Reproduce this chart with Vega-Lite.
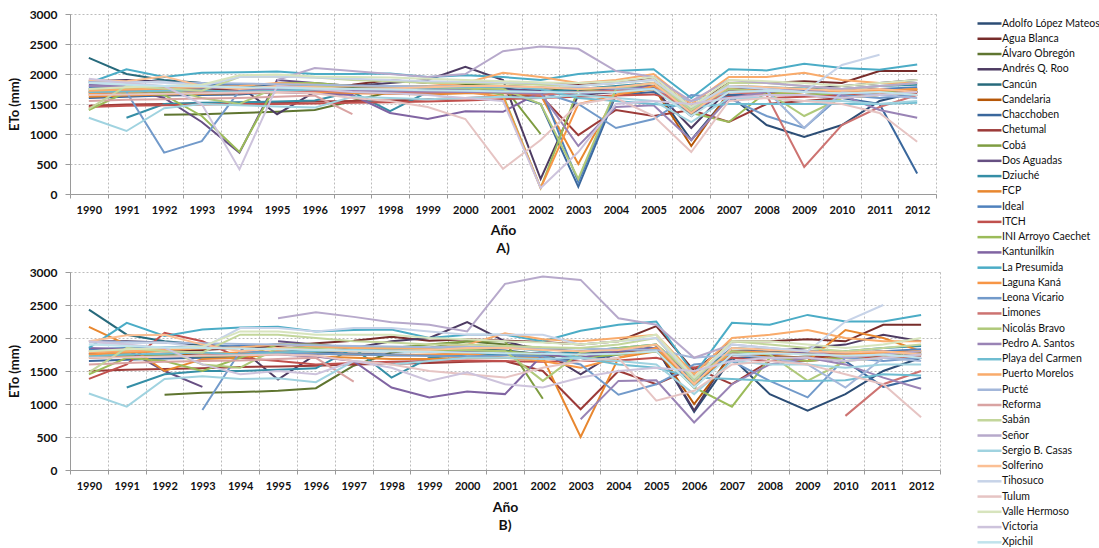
{
"$schema": "https://vega.github.io/schema/vega-lite/v6.json",
"background": "white",
"padding": {"left": 8, "top": 8, "right": 5, "bottom": 5},
"datasets": {
"st": [{"k":1,"n":"Adolfo López Mateos"},{"k":2,"n":"Agua Blanca"},{"k":3,"n":"Álvaro Obregón"},{"k":4,"n":"Andrés Q. Roo"},{"k":5,"n":"Cancún"},{"k":6,"n":"Candelaria"},{"k":7,"n":"Chacchoben"},{"k":8,"n":"Chetumal"},{"k":9,"n":"Cobá"},{"k":10,"n":"Dos Aguadas"},{"k":11,"n":"Dziuché"},{"k":12,"n":"FCP"},{"k":13,"n":"Ideal"},{"k":14,"n":"ITCH"},{"k":15,"n":"INI Arroyo Caechet"},{"k":16,"n":"Kantunilkín"},{"k":17,"n":"La Presumida"},{"k":18,"n":"Laguna Kaná"},{"k":19,"n":"Leona Vicario"},{"k":20,"n":"Limones"},{"k":21,"n":"Nicolás Bravo"},{"k":22,"n":"Pedro A. Santos"},{"k":23,"n":"Playa del Carmen"},{"k":24,"n":"Puerto Morelos"},{"k":25,"n":"Pucté"},{"k":26,"n":"Reforma"},{"k":27,"n":"Sabán"},{"k":28,"n":"Señor"},{"k":29,"n":"Sergio B. Casas"},{"k":30,"n":"Solferino"},{"k":31,"n":"Tihosuco"},{"k":32,"n":"Tulum"},{"k":33,"n":"Valle Hermoso"},{"k":34,"n":"Victoria"},{"k":35,"n":"Xpichil"}],
"d": [
{"k":1,"y":1990,"a":1720,"b":1760},{"k":1,"y":1991,"a":1730,"b":1780},{"k":1,"y":1992,"a":1750,"b":1810},{"k":1,"y":1993,"a":1760,"b":1830},{"k":1,"y":1994,"a":1790,"b":1870},{"k":1,"y":1995,"a":1820,"b":1900},{"k":1,"y":1996,"a":1800,"b":1870},{"k":1,"y":1997,"a":1780,"b":1850},{"k":1,"y":1998,"a":1760,"b":1820},{"k":1,"y":1999,"a":1750,"b":1810},{"k":1,"y":2000,"a":1770,"b":1830},{"k":1,"y":2001,"a":1760,"b":1810},{"k":1,"y":2002,"a":1700,"b":1750},{"k":1,"y":2003,"a":1650,"b":1700},{"k":1,"y":2004,"a":1720,"b":1780},{"k":1,"y":2005,"a":1780,"b":1850},{"k":1,"y":2006,"a":900,"b":880},{"k":1,"y":2007,"a":1650,"b":1700},{"k":1,"y":2008,"a":1150,"b":1150},{"k":1,"y":2009,"a":950,"b":900},{"k":1,"y":2010,"a":1150,"b":1150},{"k":1,"y":2011,"a":1550,"b":1500},{"k":1,"y":2012,"a":1700,"b":1700},
{"k":2,"y":1990,"a":1680,"b":1760},{"k":2,"y":1991,"a":1700,"b":1790},{"k":2,"y":1992,"a":1720,"b":1810},{"k":2,"y":1993,"a":1730,"b":1820},{"k":2,"y":1994,"a":1740,"b":1850},{"k":2,"y":1995,"a":1760,"b":1880},{"k":2,"y":1996,"a":1780,"b":1920},{"k":2,"y":1997,"a":1820,"b":1960},{"k":2,"y":1998,"a":1900,"b":2020},{"k":2,"y":1999,"a":1850,"b":1960},{"k":2,"y":2000,"a":1870,"b":1980},{"k":2,"y":2001,"a":1860,"b":1960},{"k":2,"y":2002,"a":1850,"b":1940},{"k":2,"y":2003,"a":1820,"b":1900},{"k":2,"y":2004,"a":1850,"b":1950},{"k":2,"y":2005,"a":1950,"b":2180},{"k":2,"y":2006,"a":1450,"b":1500},{"k":2,"y":2007,"a":1850,"b":1950},{"k":2,"y":2008,"a":1850,"b":1950},{"k":2,"y":2009,"a":1880,"b":1980},{"k":2,"y":2010,"a":1850,"b":1950},{"k":2,"y":2011,"a":2050,"b":2200},{"k":2,"y":2012,"a":2050,"b":2200},
{"k":3,"y":1990,"a":null,"b":null},{"k":3,"y":1991,"a":null,"b":null},{"k":3,"y":1992,"a":1320,"b":1140},{"k":3,"y":1993,"a":1330,"b":1170},{"k":3,"y":1994,"a":1350,"b":1180},{"k":3,"y":1995,"a":1370,"b":1200},{"k":3,"y":1996,"a":1400,"b":1240},{"k":3,"y":1997,"a":1550,"b":1580},{"k":3,"y":1998,"a":1700,"b":1780},{"k":3,"y":1999,"a":1780,"b":1850},{"k":3,"y":2000,"a":1820,"b":1950},{"k":3,"y":2001,"a":1800,"b":1900},{"k":3,"y":2002,"a":1780,"b":1850},{"k":3,"y":2003,"a":1700,"b":1780},{"k":3,"y":2004,"a":1750,"b":1820},{"k":3,"y":2005,"a":1800,"b":1900},{"k":3,"y":2006,"a":1350,"b":1300},{"k":3,"y":2007,"a":1700,"b":1750},{"k":3,"y":2008,"a":1750,"b":1800},{"k":3,"y":2009,"a":1700,"b":1750},{"k":3,"y":2010,"a":1650,"b":1700},{"k":3,"y":2011,"a":1700,"b":1750},{"k":3,"y":2012,"a":1720,"b":1780},
{"k":4,"y":1990,"a":1880,"b":1950},{"k":4,"y":1991,"a":1900,"b":1950},{"k":4,"y":1992,"a":1870,"b":1930},{"k":4,"y":1993,"a":1850,"b":1900},{"k":4,"y":1994,"a":1800,"b":1850},{"k":4,"y":1995,"a":1330,"b":1370},{"k":4,"y":1996,"a":1700,"b":1750},{"k":4,"y":1997,"a":1800,"b":1850},{"k":4,"y":1998,"a":1850,"b":1950},{"k":4,"y":1999,"a":1900,"b":2000},{"k":4,"y":2000,"a":2120,"b":2240},{"k":4,"y":2001,"a":1900,"b":1950},{"k":4,"y":2002,"a":250,"b":1800},{"k":4,"y":2003,"a":1650,"b":1450},{"k":4,"y":2004,"a":1700,"b":1800},{"k":4,"y":2005,"a":1750,"b":1850},{"k":4,"y":2006,"a":1100,"b":900},{"k":4,"y":2007,"a":1750,"b":1800},{"k":4,"y":2008,"a":1700,"b":1800},{"k":4,"y":2009,"a":1750,"b":1850},{"k":4,"y":2010,"a":1800,"b":1900},{"k":4,"y":2011,"a":1850,"b":2050},{"k":4,"y":2012,"a":1900,"b":1950},
{"k":5,"y":1990,"a":2270,"b":2430},{"k":5,"y":1991,"a":2000,"b":2050},{"k":5,"y":1992,"a":1900,"b":1950},{"k":5,"y":1993,"a":1850,"b":1900},{"k":5,"y":1994,"a":1800,"b":1850},{"k":5,"y":1995,"a":1780,"b":1830},{"k":5,"y":1996,"a":1760,"b":1800},{"k":5,"y":1997,"a":1750,"b":1800},{"k":5,"y":1998,"a":1750,"b":1800},{"k":5,"y":1999,"a":1760,"b":1800},{"k":5,"y":2000,"a":1780,"b":1820},{"k":5,"y":2001,"a":1750,"b":1800},{"k":5,"y":2002,"a":1700,"b":1750},{"k":5,"y":2003,"a":1720,"b":1780},{"k":5,"y":2004,"a":1750,"b":1800},{"k":5,"y":2005,"a":1800,"b":1850},{"k":5,"y":2006,"a":1300,"b":1250},{"k":5,"y":2007,"a":1750,"b":1800},{"k":5,"y":2008,"a":1720,"b":1780},{"k":5,"y":2009,"a":1700,"b":1750},{"k":5,"y":2010,"a":1720,"b":1780},{"k":5,"y":2011,"a":1750,"b":1800},{"k":5,"y":2012,"a":1700,"b":1750},
{"k":6,"y":1990,"a":1650,"b":1700},{"k":6,"y":1991,"a":1660,"b":1720},{"k":6,"y":1992,"a":1680,"b":1740},{"k":6,"y":1993,"a":1690,"b":1750},{"k":6,"y":1994,"a":1700,"b":1770},{"k":6,"y":1995,"a":1720,"b":1790},{"k":6,"y":1996,"a":1700,"b":1760},{"k":6,"y":1997,"a":1690,"b":1750},{"k":6,"y":1998,"a":1680,"b":1740},{"k":6,"y":1999,"a":1680,"b":1740},{"k":6,"y":2000,"a":1700,"b":1760},{"k":6,"y":2001,"a":1690,"b":1750},{"k":6,"y":2002,"a":1680,"b":1730},{"k":6,"y":2003,"a":1700,"b":1750},{"k":6,"y":2004,"a":1720,"b":1780},{"k":6,"y":2005,"a":1780,"b":1850},{"k":6,"y":2006,"a":800,"b":1000},{"k":6,"y":2007,"a":1700,"b":1750},{"k":6,"y":2008,"a":1680,"b":1730},{"k":6,"y":2009,"a":1650,"b":1700},{"k":6,"y":2010,"a":1680,"b":1730},{"k":6,"y":2011,"a":1700,"b":1750},{"k":6,"y":2012,"a":1750,"b":1800},
{"k":7,"y":1990,"a":1600,"b":1650},{"k":7,"y":1991,"a":1620,"b":1670},{"k":7,"y":1992,"a":1640,"b":1690},{"k":7,"y":1993,"a":1650,"b":1700},{"k":7,"y":1994,"a":1660,"b":1720},{"k":7,"y":1995,"a":1700,"b":1760},{"k":7,"y":1996,"a":1720,"b":1780},{"k":7,"y":1997,"a":1700,"b":1760},{"k":7,"y":1998,"a":1690,"b":1750},{"k":7,"y":1999,"a":1680,"b":1740},{"k":7,"y":2000,"a":1700,"b":1760},{"k":7,"y":2001,"a":1700,"b":1750},{"k":7,"y":2002,"a":1500,"b":1700},{"k":7,"y":2003,"a":120,"b":1650},{"k":7,"y":2004,"a":1650,"b":1750},{"k":7,"y":2005,"a":1700,"b":1800},{"k":7,"y":2006,"a":1400,"b":1400},{"k":7,"y":2007,"a":1650,"b":1700},{"k":7,"y":2008,"a":1650,"b":1700},{"k":7,"y":2009,"a":1650,"b":1700},{"k":7,"y":2010,"a":1600,"b":1650},{"k":7,"y":2011,"a":1500,"b":1260},{"k":7,"y":2012,"a":340,"b":1400},
{"k":8,"y":1990,"a":1470,"b":1500},{"k":8,"y":1991,"a":1490,"b":1520},{"k":8,"y":1992,"a":1500,"b":1530},{"k":8,"y":1993,"a":1510,"b":1540},{"k":8,"y":1994,"a":1520,"b":1560},{"k":8,"y":1995,"a":1530,"b":1570},{"k":8,"y":1996,"a":1540,"b":1580},{"k":8,"y":1997,"a":1550,"b":1600},{"k":8,"y":1998,"a":1560,"b":1610},{"k":8,"y":1999,"a":1580,"b":1620},{"k":8,"y":2000,"a":1600,"b":1640},{"k":8,"y":2001,"a":1620,"b":1650},{"k":8,"y":2002,"a":1640,"b":1500},{"k":8,"y":2003,"a":980,"b":920},{"k":8,"y":2004,"a":1400,"b":1500},{"k":8,"y":2005,"a":1300,"b":1300},{"k":8,"y":2006,"a":1400,"b":1550},{"k":8,"y":2007,"a":1200,"b":1300},{"k":8,"y":2008,"a":1500,"b":1650},{"k":8,"y":2009,"a":1550,"b":1700},{"k":8,"y":2010,"a":1600,"b":1750},{"k":8,"y":2011,"a":1650,"b":1700},{"k":8,"y":2012,"a":1700,"b":1750},
{"k":9,"y":1990,"a":1700,"b":1720},{"k":9,"y":1991,"a":1720,"b":1750},{"k":9,"y":1992,"a":1700,"b":1740},{"k":9,"y":1993,"a":1690,"b":1720},{"k":9,"y":1994,"a":1700,"b":1730},{"k":9,"y":1995,"a":1720,"b":1760},{"k":9,"y":1996,"a":1740,"b":1790},{"k":9,"y":1997,"a":1760,"b":1820},{"k":9,"y":1998,"a":1780,"b":1850},{"k":9,"y":1999,"a":1800,"b":1900},{"k":9,"y":2000,"a":1800,"b":1950},{"k":9,"y":2001,"a":1800,"b":1950},{"k":9,"y":2002,"a":1000,"b":1080},{"k":9,"y":2003,"a":null,"b":null},{"k":9,"y":2004,"a":null,"b":null},{"k":9,"y":2005,"a":null,"b":null},{"k":9,"y":2006,"a":null,"b":null},{"k":9,"y":2007,"a":null,"b":null},{"k":9,"y":2008,"a":null,"b":null},{"k":9,"y":2009,"a":null,"b":null},{"k":9,"y":2010,"a":null,"b":null},{"k":9,"y":2011,"a":null,"b":null},{"k":9,"y":2012,"a":null,"b":null},
{"k":10,"y":1990,"a":1750,"b":1800},{"k":10,"y":1991,"a":1760,"b":1820},{"k":10,"y":1992,"a":1600,"b":1500},{"k":10,"y":1993,"a":1200,"b":1260},{"k":10,"y":1994,"a":690,"b":null},{"k":10,"y":1995,"a":1900,"b":1950},{"k":10,"y":1996,"a":1850,"b":1900},{"k":10,"y":1997,"a":1800,"b":1850},{"k":10,"y":1998,"a":1780,"b":1830},{"k":10,"y":1999,"a":1760,"b":1800},{"k":10,"y":2000,"a":1750,"b":1800},{"k":10,"y":2001,"a":1740,"b":1780},{"k":10,"y":2002,"a":1730,"b":1770},{"k":10,"y":2003,"a":1700,"b":1750},{"k":10,"y":2004,"a":1750,"b":1800},{"k":10,"y":2005,"a":1800,"b":1850},{"k":10,"y":2006,"a":1300,"b":1350},{"k":10,"y":2007,"a":1750,"b":1800},{"k":10,"y":2008,"a":1700,"b":1750},{"k":10,"y":2009,"a":1750,"b":1800},{"k":10,"y":2010,"a":1700,"b":1750},{"k":10,"y":2011,"a":1750,"b":1800},{"k":10,"y":2012,"a":1700,"b":1750},
{"k":11,"y":1990,"a":null,"b":null},{"k":11,"y":1991,"a":1270,"b":1250},{"k":11,"y":1992,"a":1500,"b":1450},{"k":11,"y":1993,"a":1520,"b":1500},{"k":11,"y":1994,"a":1530,"b":1500},{"k":11,"y":1995,"a":1540,"b":1520},{"k":11,"y":1996,"a":1560,"b":1540},{"k":11,"y":1997,"a":1700,"b":1850},{"k":11,"y":1998,"a":1380,"b":1400},{"k":11,"y":1999,"a":1700,"b":1700},{"k":11,"y":2000,"a":1720,"b":1750},{"k":11,"y":2001,"a":1720,"b":1750},{"k":11,"y":2002,"a":1700,"b":1720},{"k":11,"y":2003,"a":1750,"b":1800},{"k":11,"y":2004,"a":1800,"b":1850},{"k":11,"y":2005,"a":1850,"b":1900},{"k":11,"y":2006,"a":1450,"b":1400},{"k":11,"y":2007,"a":1800,"b":1850},{"k":11,"y":2008,"a":1780,"b":1820},{"k":11,"y":2009,"a":1760,"b":1800},{"k":11,"y":2010,"a":1750,"b":1800},{"k":11,"y":2011,"a":1800,"b":1850},{"k":11,"y":2012,"a":1820,"b":1880},
{"k":12,"y":1990,"a":1620,"b":2170},{"k":12,"y":1991,"a":1640,"b":1900},{"k":12,"y":1992,"a":1660,"b":1500},{"k":12,"y":1993,"a":1670,"b":1680},{"k":12,"y":1994,"a":1680,"b":1700},{"k":12,"y":1995,"a":1700,"b":1760},{"k":12,"y":1996,"a":1690,"b":1720},{"k":12,"y":1997,"a":1680,"b":1700},{"k":12,"y":1998,"a":1670,"b":1680},{"k":12,"y":1999,"a":1660,"b":1680},{"k":12,"y":2000,"a":1680,"b":1700},{"k":12,"y":2001,"a":1680,"b":1700},{"k":12,"y":2002,"a":1650,"b":1700},{"k":12,"y":2003,"a":500,"b":500},{"k":12,"y":2004,"a":1650,"b":1700},{"k":12,"y":2005,"a":1750,"b":1800},{"k":12,"y":2006,"a":1400,"b":1350},{"k":12,"y":2007,"a":1700,"b":1750},{"k":12,"y":2008,"a":1700,"b":1700},{"k":12,"y":2009,"a":1650,"b":1650},{"k":12,"y":2010,"a":1650,"b":2120},{"k":12,"y":2011,"a":1700,"b":2000},{"k":12,"y":2012,"a":1720,"b":1800},
{"k":13,"y":1990,"a":1780,"b":1830},{"k":13,"y":1991,"a":1790,"b":1850},{"k":13,"y":1992,"a":1800,"b":1860},{"k":13,"y":1993,"a":1810,"b":1870},{"k":13,"y":1994,"a":1820,"b":1880},{"k":13,"y":1995,"a":1830,"b":1900},{"k":13,"y":1996,"a":1810,"b":1880},{"k":13,"y":1997,"a":1800,"b":1860},{"k":13,"y":1998,"a":1790,"b":1850},{"k":13,"y":1999,"a":1780,"b":1840},{"k":13,"y":2000,"a":1800,"b":1860},{"k":13,"y":2001,"a":1790,"b":1850},{"k":13,"y":2002,"a":1780,"b":1830},{"k":13,"y":2003,"a":200,"b":1800},{"k":13,"y":2004,"a":1700,"b":1800},{"k":13,"y":2005,"a":1780,"b":1850},{"k":13,"y":2006,"a":1350,"b":1350},{"k":13,"y":2007,"a":1750,"b":1800},{"k":13,"y":2008,"a":1740,"b":1780},{"k":13,"y":2009,"a":1720,"b":1760},{"k":13,"y":2010,"a":1700,"b":1750},{"k":13,"y":2011,"a":1750,"b":1800},{"k":13,"y":2012,"a":1780,"b":1830},
{"k":14,"y":1990,"a":1450,"b":1380},{"k":14,"y":1991,"a":1470,"b":1600},{"k":14,"y":1992,"a":1480,"b":2080},{"k":14,"y":1993,"a":1490,"b":1950},{"k":14,"y":1994,"a":1500,"b":1700},{"k":14,"y":1995,"a":1500,"b":1650},{"k":14,"y":1996,"a":1510,"b":1600},{"k":14,"y":1997,"a":1520,"b":1620},{"k":14,"y":1998,"a":1530,"b":1640},{"k":14,"y":1999,"a":1540,"b":1650},{"k":14,"y":2000,"a":1560,"b":1660},{"k":14,"y":2001,"a":1580,"b":1650},{"k":14,"y":2002,"a":1600,"b":1640},{"k":14,"y":2003,"a":1620,"b":1650},{"k":14,"y":2004,"a":1640,"b":1660},{"k":14,"y":2005,"a":1660,"b":1700},{"k":14,"y":2006,"a":1500,"b":1550},{"k":14,"y":2007,"a":1620,"b":1700},{"k":14,"y":2008,"a":1600,"b":1650},{"k":14,"y":2009,"a":1620,"b":1650},{"k":14,"y":2010,"a":1640,"b":1700},{"k":14,"y":2011,"a":1660,"b":1700},{"k":14,"y":2012,"a":1680,"b":1720},
{"k":15,"y":1990,"a":1400,"b":1450},{"k":15,"y":1991,"a":1700,"b":1700},{"k":15,"y":1992,"a":1650,"b":1650},{"k":15,"y":1993,"a":1300,"b":1500},{"k":15,"y":1994,"a":700,"b":1700},{"k":15,"y":1995,"a":1850,"b":1900},{"k":15,"y":1996,"a":1850,"b":1900},{"k":15,"y":1997,"a":1800,"b":1850},{"k":15,"y":1998,"a":1800,"b":1850},{"k":15,"y":1999,"a":1780,"b":1820},{"k":15,"y":2000,"a":1780,"b":1820},{"k":15,"y":2001,"a":1650,"b":1800},{"k":15,"y":2002,"a":100,"b":1750},{"k":15,"y":2003,"a":1750,"b":1700},{"k":15,"y":2004,"a":1700,"b":1750},{"k":15,"y":2005,"a":1750,"b":1800},{"k":15,"y":2006,"a":1350,"b":1250},{"k":15,"y":2007,"a":1200,"b":960},{"k":15,"y":2008,"a":1700,"b":1700},{"k":15,"y":2009,"a":1650,"b":1650},{"k":15,"y":2010,"a":1680,"b":1700},{"k":15,"y":2011,"a":1700,"b":1750},{"k":15,"y":2012,"a":1750,"b":1800},
{"k":16,"y":1990,"a":1820,"b":1850},{"k":16,"y":1991,"a":1800,"b":1830},{"k":16,"y":1992,"a":1750,"b":1800},{"k":16,"y":1993,"a":1700,"b":1750},{"k":16,"y":1994,"a":1720,"b":1760},{"k":16,"y":1995,"a":1700,"b":1750},{"k":16,"y":1996,"a":1680,"b":1720},{"k":16,"y":1997,"a":1650,"b":1650},{"k":16,"y":1998,"a":1350,"b":1250},{"k":16,"y":1999,"a":1250,"b":1100},{"k":16,"y":2000,"a":1380,"b":1190},{"k":16,"y":2001,"a":1370,"b":1150},{"k":16,"y":2002,"a":1700,"b":1750},{"k":16,"y":2003,"a":1650,"b":1700},{"k":16,"y":2004,"a":1750,"b":1800},{"k":16,"y":2005,"a":1800,"b":1850},{"k":16,"y":2006,"a":1350,"b":1400},{"k":16,"y":2007,"a":1750,"b":1800},{"k":16,"y":2008,"a":1700,"b":1750},{"k":16,"y":2009,"a":1750,"b":1800},{"k":16,"y":2010,"a":1700,"b":1750},{"k":16,"y":2011,"a":1750,"b":1800},{"k":16,"y":2012,"a":1700,"b":1750},
{"k":17,"y":1990,"a":1850,"b":1850},{"k":17,"y":1991,"a":2080,"b":2230},{"k":17,"y":1992,"a":1950,"b":2030},{"k":17,"y":1993,"a":2020,"b":2130},{"k":17,"y":1994,"a":2030,"b":2160},{"k":17,"y":1995,"a":2040,"b":2170},{"k":17,"y":1996,"a":2000,"b":2100},{"k":17,"y":1997,"a":2000,"b":2120},{"k":17,"y":1998,"a":2010,"b":2130},{"k":17,"y":1999,"a":1950,"b":2000},{"k":17,"y":2000,"a":1980,"b":2050},{"k":17,"y":2001,"a":1950,"b":2050},{"k":17,"y":2002,"a":1900,"b":1950},{"k":17,"y":2003,"a":2000,"b":2110},{"k":17,"y":2004,"a":2050,"b":2200},{"k":17,"y":2005,"a":2080,"b":2250},{"k":17,"y":2006,"a":1600,"b":1450},{"k":17,"y":2007,"a":2080,"b":2230},{"k":17,"y":2008,"a":2060,"b":2200},{"k":17,"y":2009,"a":2170,"b":2350},{"k":17,"y":2010,"a":2100,"b":2250},{"k":17,"y":2011,"a":2070,"b":2250},{"k":17,"y":2012,"a":2160,"b":2350},
{"k":18,"y":1990,"a":1680,"b":1750},{"k":18,"y":1991,"a":1700,"b":1780},{"k":18,"y":1992,"a":1720,"b":1800},{"k":18,"y":1993,"a":1700,"b":1760},{"k":18,"y":1994,"a":1710,"b":1780},{"k":18,"y":1995,"a":1740,"b":1800},{"k":18,"y":1996,"a":1700,"b":1760},{"k":18,"y":1997,"a":1690,"b":1750},{"k":18,"y":1998,"a":1680,"b":1740},{"k":18,"y":1999,"a":1690,"b":1750},{"k":18,"y":2000,"a":1700,"b":1760},{"k":18,"y":2001,"a":1620,"b":1700},{"k":18,"y":2002,"a":100,"b":1650},{"k":18,"y":2003,"a":1500,"b":1550},{"k":18,"y":2004,"a":1650,"b":1700},{"k":18,"y":2005,"a":1800,"b":1850},{"k":18,"y":2006,"a":1450,"b":1300},{"k":18,"y":2007,"a":1750,"b":1800},{"k":18,"y":2008,"a":1720,"b":1780},{"k":18,"y":2009,"a":1700,"b":1750},{"k":18,"y":2010,"a":1700,"b":1750},{"k":18,"y":2011,"a":1720,"b":1780},{"k":18,"y":2012,"a":1750,"b":1800},
{"k":19,"y":1990,"a":null,"b":null},{"k":19,"y":1991,"a":1700,"b":null},{"k":19,"y":1992,"a":690,"b":null},{"k":19,"y":1993,"a":880,"b":910},{"k":19,"y":1994,"a":1720,"b":1800},{"k":19,"y":1995,"a":1750,"b":1780},{"k":19,"y":1996,"a":1740,"b":1760},{"k":19,"y":1997,"a":1730,"b":1750},{"k":19,"y":1998,"a":1720,"b":1740},{"k":19,"y":1999,"a":1710,"b":1730},{"k":19,"y":2000,"a":1700,"b":1720},{"k":19,"y":2001,"a":1720,"b":1740},{"k":19,"y":2002,"a":1700,"b":1720},{"k":19,"y":2003,"a":1500,"b":1600},{"k":19,"y":2004,"a":1100,"b":1140},{"k":19,"y":2005,"a":1250,"b":1300},{"k":19,"y":2006,"a":1650,"b":1600},{"k":19,"y":2007,"a":1600,"b":1650},{"k":19,"y":2008,"a":1300,"b":1350},{"k":19,"y":2009,"a":1100,"b":1100},{"k":19,"y":2010,"a":1650,"b":1700},{"k":19,"y":2011,"a":1600,"b":1650},{"k":19,"y":2012,"a":1650,"b":1700},
{"k":20,"y":1990,"a":1700,"b":null},{"k":20,"y":1991,"a":1720,"b":null},{"k":20,"y":1992,"a":1740,"b":null},{"k":20,"y":1993,"a":1700,"b":null},{"k":20,"y":1994,"a":1680,"b":null},{"k":20,"y":1995,"a":1700,"b":null},{"k":20,"y":1996,"a":1720,"b":null},{"k":20,"y":1997,"a":1700,"b":null},{"k":20,"y":1998,"a":1680,"b":null},{"k":20,"y":1999,"a":1690,"b":null},{"k":20,"y":2000,"a":1700,"b":null},{"k":20,"y":2001,"a":1700,"b":null},{"k":20,"y":2002,"a":1650,"b":null},{"k":20,"y":2003,"a":1700,"b":null},{"k":20,"y":2004,"a":1720,"b":null},{"k":20,"y":2005,"a":1750,"b":null},{"k":20,"y":2006,"a":1400,"b":null},{"k":20,"y":2007,"a":1700,"b":null},{"k":20,"y":2008,"a":1650,"b":null},{"k":20,"y":2009,"a":450,"b":null},{"k":20,"y":2010,"a":1150,"b":820},{"k":20,"y":2011,"a":1450,"b":1300},{"k":20,"y":2012,"a":1650,"b":1500},
{"k":21,"y":1990,"a":1750,"b":1800},{"k":21,"y":1991,"a":1760,"b":1820},{"k":21,"y":1992,"a":1780,"b":1830},{"k":21,"y":1993,"a":1600,"b":1600},{"k":21,"y":1994,"a":1500,"b":1550},{"k":21,"y":1995,"a":1780,"b":1850},{"k":21,"y":1996,"a":1790,"b":1850},{"k":21,"y":1997,"a":1800,"b":1860},{"k":21,"y":1998,"a":1790,"b":1850},{"k":21,"y":1999,"a":1780,"b":1840},{"k":21,"y":2000,"a":1760,"b":1820},{"k":21,"y":2001,"a":1750,"b":1800},{"k":21,"y":2002,"a":1500,"b":1350},{"k":21,"y":2003,"a":250,"b":1780},{"k":21,"y":2004,"a":1750,"b":1850},{"k":21,"y":2005,"a":1850,"b":1900},{"k":21,"y":2006,"a":1400,"b":1400},{"k":21,"y":2007,"a":1750,"b":1800},{"k":21,"y":2008,"a":1700,"b":1750},{"k":21,"y":2009,"a":1300,"b":1350},{"k":21,"y":2010,"a":1600,"b":1650},{"k":21,"y":2011,"a":1650,"b":1700},{"k":21,"y":2012,"a":1700,"b":1750},
{"k":22,"y":1990,"a":1800,"b":null},{"k":22,"y":1991,"a":1790,"b":null},{"k":22,"y":1992,"a":1780,"b":null},{"k":22,"y":1993,"a":1770,"b":null},{"k":22,"y":1994,"a":1760,"b":null},{"k":22,"y":1995,"a":1750,"b":null},{"k":22,"y":1996,"a":1740,"b":null},{"k":22,"y":1997,"a":1730,"b":null},{"k":22,"y":1998,"a":1720,"b":null},{"k":22,"y":1999,"a":1710,"b":null},{"k":22,"y":2000,"a":1700,"b":null},{"k":22,"y":2001,"a":1690,"b":null},{"k":22,"y":2002,"a":1680,"b":null},{"k":22,"y":2003,"a":800,"b":770},{"k":22,"y":2004,"a":1450,"b":1350},{"k":22,"y":2005,"a":1480,"b":1360},{"k":22,"y":2006,"a":900,"b":720},{"k":22,"y":2007,"a":1600,"b":1300},{"k":22,"y":2008,"a":1700,"b":1600},{"k":22,"y":2009,"a":1750,"b":1700},{"k":22,"y":2010,"a":1650,"b":1600},{"k":22,"y":2011,"a":1400,"b":1400},{"k":22,"y":2012,"a":1270,"b":1230},
{"k":23,"y":1990,"a":1700,"b":1720},{"k":23,"y":1991,"a":1710,"b":1750},{"k":23,"y":1992,"a":1720,"b":1760},{"k":23,"y":1993,"a":1730,"b":1780},{"k":23,"y":1994,"a":1700,"b":1750},{"k":23,"y":1995,"a":1720,"b":1780},{"k":23,"y":1996,"a":1740,"b":1800},{"k":23,"y":1997,"a":1750,"b":1820},{"k":23,"y":1998,"a":1760,"b":1830},{"k":23,"y":1999,"a":1770,"b":1840},{"k":23,"y":2000,"a":1780,"b":1850},{"k":23,"y":2001,"a":1790,"b":1860},{"k":23,"y":2002,"a":1750,"b":1800},{"k":23,"y":2003,"a":1600,"b":1700},{"k":23,"y":2004,"a":1550,"b":1600},{"k":23,"y":2005,"a":1500,"b":1550},{"k":23,"y":2006,"a":1450,"b":1400},{"k":23,"y":2007,"a":1500,"b":1380},{"k":23,"y":2008,"a":1500,"b":1350},{"k":23,"y":2009,"a":1500,"b":1350},{"k":23,"y":2010,"a":1500,"b":1360},{"k":23,"y":2011,"a":1500,"b":1450},{"k":23,"y":2012,"a":1520,"b":1430},
{"k":24,"y":1990,"a":1720,"b":1780},{"k":24,"y":1991,"a":1740,"b":1800},{"k":24,"y":1992,"a":1760,"b":1820},{"k":24,"y":1993,"a":1780,"b":1840},{"k":24,"y":1994,"a":1800,"b":1860},{"k":24,"y":1995,"a":1850,"b":1900},{"k":24,"y":1996,"a":1820,"b":1870},{"k":24,"y":1997,"a":1800,"b":1850},{"k":24,"y":1998,"a":1790,"b":1840},{"k":24,"y":1999,"a":1800,"b":1850},{"k":24,"y":2000,"a":1850,"b":1900},{"k":24,"y":2001,"a":2020,"b":2070},{"k":24,"y":2002,"a":1950,"b":1980},{"k":24,"y":2003,"a":1850,"b":1950},{"k":24,"y":2004,"a":1900,"b":2000},{"k":24,"y":2005,"a":2000,"b":2050},{"k":24,"y":2006,"a":1500,"b":1450},{"k":24,"y":2007,"a":1950,"b":2000},{"k":24,"y":2008,"a":1950,"b":2050},{"k":24,"y":2009,"a":2020,"b":2120},{"k":24,"y":2010,"a":1900,"b":2000},{"k":24,"y":2011,"a":1850,"b":1950},{"k":24,"y":2012,"a":1850,"b":1950},
{"k":25,"y":1990,"a":1880,"b":1950},{"k":25,"y":1991,"a":1870,"b":1940},{"k":25,"y":1992,"a":1860,"b":1930},{"k":25,"y":1993,"a":1850,"b":1920},{"k":25,"y":1994,"a":1840,"b":1910},{"k":25,"y":1995,"a":1830,"b":1900},{"k":25,"y":1996,"a":1820,"b":1890},{"k":25,"y":1997,"a":1810,"b":1880},{"k":25,"y":1998,"a":1800,"b":1870},{"k":25,"y":1999,"a":1790,"b":1860},{"k":25,"y":2000,"a":1800,"b":1870},{"k":25,"y":2001,"a":1790,"b":1860},{"k":25,"y":2002,"a":1780,"b":1850},{"k":25,"y":2003,"a":1770,"b":1840},{"k":25,"y":2004,"a":1760,"b":1830},{"k":25,"y":2005,"a":1750,"b":1820},{"k":25,"y":2006,"a":1550,"b":1700},{"k":25,"y":2007,"a":1700,"b":1750},{"k":25,"y":2008,"a":1720,"b":1700},{"k":25,"y":2009,"a":1100,"b":1600},{"k":25,"y":2010,"a":1700,"b":1250},{"k":25,"y":2011,"a":1650,"b":1700},{"k":25,"y":2012,"a":1600,"b":1650},
{"k":26,"y":1990,"a":1550,"b":1600},{"k":26,"y":1991,"a":1570,"b":1620},{"k":26,"y":1992,"a":1580,"b":1640},{"k":26,"y":1993,"a":1590,"b":1650},{"k":26,"y":1994,"a":1600,"b":1660},{"k":26,"y":1995,"a":1620,"b":1680},{"k":26,"y":1996,"a":1640,"b":1700},{"k":26,"y":1997,"a":1330,"b":1340},{"k":26,"y":1998,"a":null,"b":null},{"k":26,"y":1999,"a":null,"b":null},{"k":26,"y":2000,"a":null,"b":null},{"k":26,"y":2001,"a":null,"b":null},{"k":26,"y":2002,"a":null,"b":null},{"k":26,"y":2003,"a":null,"b":null},{"k":26,"y":2004,"a":null,"b":null},{"k":26,"y":2005,"a":null,"b":null},{"k":26,"y":2006,"a":null,"b":null},{"k":26,"y":2007,"a":null,"b":null},{"k":26,"y":2008,"a":null,"b":null},{"k":26,"y":2009,"a":null,"b":null},{"k":26,"y":2010,"a":null,"b":null},{"k":26,"y":2011,"a":null,"b":null},{"k":26,"y":2012,"a":null,"b":null},
{"k":27,"y":1990,"a":1420,"b":1480},{"k":27,"y":1991,"a":1800,"b":1850},{"k":27,"y":1992,"a":1760,"b":1800},{"k":27,"y":1993,"a":1720,"b":1780},{"k":27,"y":1994,"a":1950,"b":2050},{"k":27,"y":1995,"a":1960,"b":2050},{"k":27,"y":1996,"a":1940,"b":2000},{"k":27,"y":1997,"a":1900,"b":1950},{"k":27,"y":1998,"a":1880,"b":1930},{"k":27,"y":1999,"a":1850,"b":1900},{"k":27,"y":2000,"a":1850,"b":1900},{"k":27,"y":2001,"a":1840,"b":1880},{"k":27,"y":2002,"a":1820,"b":1860},{"k":27,"y":2003,"a":1800,"b":1850},{"k":27,"y":2004,"a":1850,"b":1900},{"k":27,"y":2005,"a":1900,"b":2000},{"k":27,"y":2006,"a":1400,"b":1350},{"k":27,"y":2007,"a":1850,"b":1950},{"k":27,"y":2008,"a":1850,"b":1900},{"k":27,"y":2009,"a":1800,"b":1850},{"k":27,"y":2010,"a":1750,"b":1800},{"k":27,"y":2011,"a":1800,"b":1850},{"k":27,"y":2012,"a":1850,"b":1900},
{"k":28,"y":1990,"a":null,"b":null},{"k":28,"y":1991,"a":null,"b":null},{"k":28,"y":1992,"a":null,"b":null},{"k":28,"y":1993,"a":null,"b":null},{"k":28,"y":1994,"a":null,"b":null},{"k":28,"y":1995,"a":1900,"b":2300},{"k":28,"y":1996,"a":2100,"b":2390},{"k":28,"y":1997,"a":2050,"b":2320},{"k":28,"y":1998,"a":2000,"b":2240},{"k":28,"y":1999,"a":1950,"b":2200},{"k":28,"y":2000,"a":2000,"b":2100},{"k":28,"y":2001,"a":2380,"b":2820},{"k":28,"y":2002,"a":2460,"b":2930},{"k":28,"y":2003,"a":2420,"b":2880},{"k":28,"y":2004,"a":2050,"b":2300},{"k":28,"y":2005,"a":1950,"b":2200},{"k":28,"y":2006,"a":1550,"b":1700},{"k":28,"y":2007,"a":1900,"b":1900},{"k":28,"y":2008,"a":1850,"b":1850},{"k":28,"y":2009,"a":1800,"b":1800},{"k":28,"y":2010,"a":1750,"b":1700},{"k":28,"y":2011,"a":1800,"b":1750},{"k":28,"y":2012,"a":1850,"b":1800},
{"k":29,"y":1990,"a":1270,"b":1160},{"k":29,"y":1991,"a":1050,"b":960},{"k":29,"y":1992,"a":1430,"b":1380},{"k":29,"y":1993,"a":1500,"b":1420},{"k":29,"y":1994,"a":1480,"b":1380},{"k":29,"y":1995,"a":1460,"b":1390},{"k":29,"y":1996,"a":1440,"b":1330},{"k":29,"y":1997,"a":1620,"b":1650},{"k":29,"y":1998,"a":1600,"b":1600},{"k":29,"y":1999,"a":1580,"b":1650},{"k":29,"y":2000,"a":1600,"b":1700},{"k":29,"y":2001,"a":1620,"b":1700},{"k":29,"y":2002,"a":1600,"b":1680},{"k":29,"y":2003,"a":1650,"b":1700},{"k":29,"y":2004,"a":1600,"b":1650},{"k":29,"y":2005,"a":1550,"b":1600},{"k":29,"y":2006,"a":1200,"b":1150},{"k":29,"y":2007,"a":1600,"b":1650},{"k":29,"y":2008,"a":1600,"b":1600},{"k":29,"y":2009,"a":1550,"b":1600},{"k":29,"y":2010,"a":1550,"b":1550},{"k":29,"y":2011,"a":1500,"b":1600},{"k":29,"y":2012,"a":1550,"b":1600},
{"k":30,"y":1990,"a":1900,"b":1950},{"k":30,"y":1991,"a":1880,"b":2040},{"k":30,"y":1992,"a":1960,"b":2050},{"k":30,"y":1993,"a":1800,"b":1900},{"k":30,"y":1994,"a":1750,"b":1800},{"k":30,"y":1995,"a":1800,"b":1850},{"k":30,"y":1996,"a":1780,"b":1820},{"k":30,"y":1997,"a":1750,"b":1800},{"k":30,"y":1998,"a":1760,"b":1800},{"k":30,"y":1999,"a":1780,"b":1820},{"k":30,"y":2000,"a":1800,"b":1850},{"k":30,"y":2001,"a":1800,"b":1850},{"k":30,"y":2002,"a":1780,"b":1820},{"k":30,"y":2003,"a":1750,"b":1800},{"k":30,"y":2004,"a":1780,"b":1820},{"k":30,"y":2005,"a":1850,"b":1900},{"k":30,"y":2006,"a":1350,"b":1300},{"k":30,"y":2007,"a":1800,"b":1850},{"k":30,"y":2008,"a":1780,"b":1820},{"k":30,"y":2009,"a":1750,"b":1800},{"k":30,"y":2010,"a":1720,"b":1780},{"k":30,"y":2011,"a":1750,"b":1800},{"k":30,"y":2012,"a":1700,"b":1750},
{"k":31,"y":1990,"a":1850,"b":1900},{"k":31,"y":1991,"a":1860,"b":1920},{"k":31,"y":1992,"a":1870,"b":1930},{"k":31,"y":1993,"a":1800,"b":1850},{"k":31,"y":1994,"a":1950,"b":2150},{"k":31,"y":1995,"a":1960,"b":2150},{"k":31,"y":1996,"a":1940,"b":2100},{"k":31,"y":1997,"a":1920,"b":2150},{"k":31,"y":1998,"a":1900,"b":2150},{"k":31,"y":1999,"a":1880,"b":2100},{"k":31,"y":2000,"a":1870,"b":2050},{"k":31,"y":2001,"a":1860,"b":2050},{"k":31,"y":2002,"a":1850,"b":2050},{"k":31,"y":2003,"a":1800,"b":1900},{"k":31,"y":2004,"a":1850,"b":1950},{"k":31,"y":2005,"a":1900,"b":2000},{"k":31,"y":2006,"a":1450,"b":1400},{"k":31,"y":2007,"a":1800,"b":1900},{"k":31,"y":2008,"a":1750,"b":1850},{"k":31,"y":2009,"a":1700,"b":1800},{"k":31,"y":2010,"a":2150,"b":2250},{"k":31,"y":2011,"a":2320,"b":2500},{"k":31,"y":2012,"a":null,"b":null},
{"k":32,"y":1990,"a":1650,"b":1700},{"k":32,"y":1991,"a":1660,"b":1710},{"k":32,"y":1992,"a":1670,"b":1720},{"k":32,"y":1993,"a":1680,"b":1730},{"k":32,"y":1994,"a":1690,"b":1740},{"k":32,"y":1995,"a":1700,"b":1750},{"k":32,"y":1996,"a":1680,"b":1730},{"k":32,"y":1997,"a":1600,"b":1650},{"k":32,"y":1998,"a":1550,"b":1600},{"k":32,"y":1999,"a":1450,"b":1500},{"k":32,"y":2000,"a":1250,"b":1450},{"k":32,"y":2001,"a":420,"b":1400},{"k":32,"y":2002,"a":900,"b":1550},{"k":32,"y":2003,"a":1500,"b":1650},{"k":32,"y":2004,"a":1600,"b":1700},{"k":32,"y":2005,"a":1300,"b":1050},{"k":32,"y":2006,"a":700,"b":1200},{"k":32,"y":2007,"a":1550,"b":1600},{"k":32,"y":2008,"a":1600,"b":1650},{"k":32,"y":2009,"a":1550,"b":1600},{"k":32,"y":2010,"a":1500,"b":1450},{"k":32,"y":2011,"a":1350,"b":1300},{"k":32,"y":2012,"a":870,"b":800},
{"k":33,"y":1990,"a":1750,"b":1800},{"k":33,"y":1991,"a":1780,"b":1830},{"k":33,"y":1992,"a":1800,"b":1850},{"k":33,"y":1993,"a":1820,"b":1870},{"k":33,"y":1994,"a":1980,"b":2100},{"k":33,"y":1995,"a":1990,"b":2100},{"k":33,"y":1996,"a":1960,"b":2050},{"k":33,"y":1997,"a":1950,"b":2050},{"k":33,"y":1998,"a":1940,"b":2050},{"k":33,"y":1999,"a":1920,"b":2000},{"k":33,"y":2000,"a":1900,"b":1980},{"k":33,"y":2001,"a":1880,"b":1950},{"k":33,"y":2002,"a":1860,"b":1930},{"k":33,"y":2003,"a":1850,"b":1900},{"k":33,"y":2004,"a":1880,"b":1950},{"k":33,"y":2005,"a":1950,"b":2050},{"k":33,"y":2006,"a":1450,"b":1400},{"k":33,"y":2007,"a":1900,"b":1950},{"k":33,"y":2008,"a":1880,"b":1950},{"k":33,"y":2009,"a":1850,"b":1900},{"k":33,"y":2010,"a":1800,"b":1850},{"k":33,"y":2011,"a":1850,"b":1900},{"k":33,"y":2012,"a":1900,"b":2000},
{"k":34,"y":1990,"a":1920,"b":1950},{"k":34,"y":1991,"a":1850,"b":1900},{"k":34,"y":1992,"a":1800,"b":1850},{"k":34,"y":1993,"a":1500,"b":1600},{"k":34,"y":1994,"a":410,"b":1450},{"k":34,"y":1995,"a":1800,"b":1500},{"k":34,"y":1996,"a":1750,"b":1450},{"k":34,"y":1997,"a":1700,"b":1650},{"k":34,"y":1998,"a":1680,"b":1550},{"k":34,"y":1999,"a":1650,"b":1350},{"k":34,"y":2000,"a":1600,"b":1480},{"k":34,"y":2001,"a":1550,"b":1300},{"k":34,"y":2002,"a":100,"b":1250},{"k":34,"y":2003,"a":700,"b":1400},{"k":34,"y":2004,"a":1500,"b":1500},{"k":34,"y":2005,"a":1550,"b":1550},{"k":34,"y":2006,"a":1500,"b":1500},{"k":34,"y":2007,"a":1600,"b":1650},{"k":34,"y":2008,"a":1650,"b":1700},{"k":34,"y":2009,"a":1650,"b":1700},{"k":34,"y":2010,"a":1600,"b":1650},{"k":34,"y":2011,"a":1650,"b":1700},{"k":34,"y":2012,"a":1700,"b":1750},
{"k":35,"y":1990,"a":1850,"b":1900},{"k":35,"y":1991,"a":1820,"b":1880},{"k":35,"y":1992,"a":1800,"b":1860},{"k":35,"y":1993,"a":1790,"b":1850},{"k":35,"y":1994,"a":1780,"b":1840},{"k":35,"y":1995,"a":1770,"b":1830},{"k":35,"y":1996,"a":1760,"b":1820},{"k":35,"y":1997,"a":1750,"b":1810},{"k":35,"y":1998,"a":1740,"b":1800},{"k":35,"y":1999,"a":1730,"b":1790},{"k":35,"y":2000,"a":1720,"b":1780},{"k":35,"y":2001,"a":1710,"b":1770},{"k":35,"y":2002,"a":1700,"b":1760},{"k":35,"y":2003,"a":1690,"b":1750},{"k":35,"y":2004,"a":1700,"b":1760},{"k":35,"y":2005,"a":1750,"b":1800},{"k":35,"y":2006,"a":1300,"b":1250},{"k":35,"y":2007,"a":1700,"b":1750},{"k":35,"y":2008,"a":1720,"b":1770},{"k":35,"y":2009,"a":1700,"b":1750},{"k":35,"y":2010,"a":1680,"b":1730},{"k":35,"y":2011,"a":1700,"b":1750},{"k":35,"y":2012,"a":1650,"b":1700}
]
},
"config": {
"font": "Lato",
"view": {"stroke": null},
"concat": {"spacing": 10},
"axis": {"labelFont": "Lato", "labelFontWeight": "bold", "labelColor": "#111", "titleFont": "Lato", "titleFontWeight": "bold", "titleColor": "#111", "domainColor": "#9A9A9A", "tickColor": "#9A9A9A", "gridColor": "#ABABAB", "gridDash": [2, 2], "gridWidth": 0.8},
"title": {"font": "Lato", "fontWeight": "bold", "fontSize": 14, "color": "#111"},
"legend": {"labelFont": "Lato", "labelFontSize": 10.5, "labelColor": "#111"}
},
"vconcat": [
{
"data": {"name": "d"},
"transform": [{"lookup": "k", "from": {"data": {"name": "st"}, "key": "k", "fields": ["n"]}}],
"width": 866, "height": 180,
"title": {"text": "A)", "orient": "bottom", "anchor": "middle", "offset": 5},
"mark": {"type": "line", "strokeWidth": 2, "invalid": "break-paths-filter-domains"},
"encoding": {
"x": {"field": "y", "type": "ordinal", "scale": {"type": "band", "paddingInner": 0, "paddingOuter": 0}, "axis": {"title": "Año", "titleFontSize": 14, "titlePadding": 8, "labelAngle": 0, "labelFontSize": 11, "labelPadding": 6, "tickBand": "extent", "tickSize": 4, "grid": true}},
"y": {"field": "a", "type": "quantitative", "scale": {"domain": [0, 3000]}, "axis": {"title": "ETo (mm)", "titleFontSize": 13, "titlePadding": 8, "labelFontSize": 12, "format": "d", "values": [0, 500, 1000, 1500, 2000, 2500, 3000], "tickSize": 5, "labelPadding": 8}},
"color": {"field": "n", "type": "nominal", "scale": {"domain": ["Adolfo López Mateos","Agua Blanca","Álvaro Obregón","Andrés Q. Roo","Cancún","Candelaria","Chacchoben","Chetumal","Cobá","Dos Aguadas","Dziuché","FCP","Ideal","ITCH","INI Arroyo Caechet","Kantunilkín","La Presumida","Laguna Kaná","Leona Vicario","Limones","Nicolás Bravo","Pedro A. Santos","Playa del Carmen","Puerto Morelos","Pucté","Reforma","Sabán","Señor","Sergio B. Casas","Solferino","Tihosuco","Tulum","Valle Hermoso","Victoria","Xpichil"], "range": ["#2C4D75","#772C2A","#5F7530","#4D3B62","#276A7C","#B65708","#3A679C","#9C3A38","#7E9C41","#664F82","#358EA6","#E8872F","#4F81BD","#C0504D","#9BBB59","#8064A2","#4BACC6","#F79646","#729ACA","#CD7371","#AFC97A","#9983B5","#6FBDD1","#F9AB6B","#A3B7DA","#D9A3A2","#C3D69B","#B7A9CB","#A0D3E0","#FBBF94","#C7D3E8","#E6C4C3","#D7E4BD","#CDC3DC","#C0E3EC"]},
"legend": {"title": null, "orient": "none", "legendX": 912, "legendY": 2, "symbolType": "M-2,0H2", "symbolSize": 144, "symbolStrokeWidth": 2.5, "rowPadding": 2.26, "labelOffset": 5, "labelLimit": 200, "symbolLimit": 50}}
}
},
{
"data": {"name": "d"},
"transform": [{"lookup": "k", "from": {"data": {"name": "st"}, "key": "k", "fields": ["n"]}}],
"width": 870, "height": 198,
"title": {"text": "B)", "orient": "bottom", "anchor": "middle", "offset": 5},
"mark": {"type": "line", "strokeWidth": 2, "invalid": "break-paths-filter-domains"},
"encoding": {
"x": {"field": "y", "type": "ordinal", "scale": {"type": "band", "paddingInner": 0, "paddingOuter": 0}, "axis": {"title": "Año", "titleFontSize": 14, "titlePadding": 9, "labelAngle": 0, "labelFontSize": 11, "labelPadding": 6, "tickBand": "extent", "tickSize": 4, "grid": true}},
"y": {"field": "b", "type": "quantitative", "scale": {"domain": [0, 3000]}, "axis": {"title": "ETo (mm)", "titleFontSize": 13, "titlePadding": 8, "labelFontSize": 12, "format": "d", "values": [0, 500, 1000, 1500, 2000, 2500, 3000], "tickSize": 5, "labelPadding": 8}},
"color": {"field": "n", "type": "nominal"}
}
}
],
"resolve": {"scale": {"color": "shared"}, "legend": {"color": "shared"}}
}
